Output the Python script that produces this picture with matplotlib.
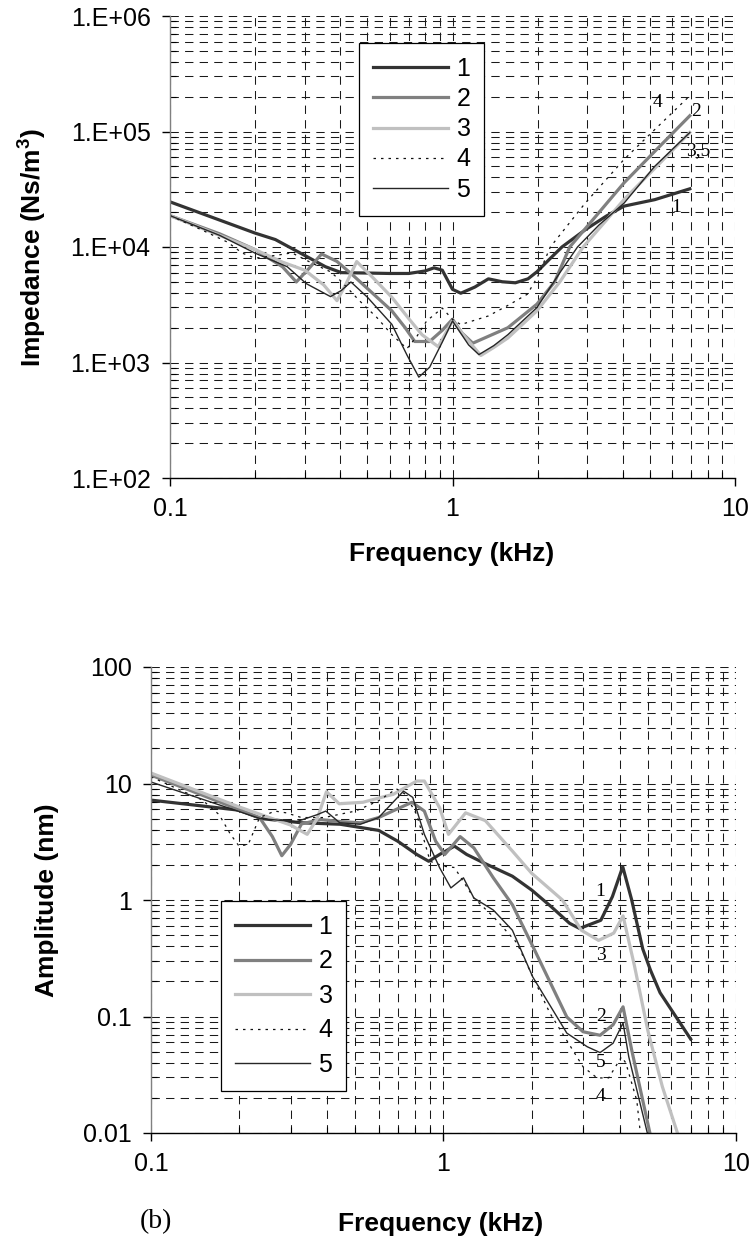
import numpy as np
import matplotlib
matplotlib.use('Agg')
import matplotlib.pyplot as plt
from matplotlib.ticker import LogLocator, NullFormatter, FuncFormatter
from matplotlib.lines import Line2D

# ---------------- data: (a) impedance ----------------
series_labels = ['1', '2', '3', '4', '5']

imp_f1 = [0.1, 0.2, 0.236, 0.304, 0.355, 0.404, 0.5, 0.6, 0.7, 0.8, 0.86, 0.92, 1.0, 1.07, 1.2, 1.34, 1.5, 1.67, 1.85, 1.99, 2.2, 2.44, 2.95, 3.5, 4.05, 5.2, 6.92]
imp_z1 = [24600, 13200, 11600, 8300, 6750, 6000, 5950, 5900, 5900, 6200, 6600, 6300, 4300, 3980, 4500, 5300, 5000, 4900, 5300, 6100, 7800, 10000, 14100, 18500, 22600, 25700, 31900]

imp_f2 = [0.1, 0.15, 0.2, 0.25, 0.28, 0.31, 0.344, 0.39, 0.444, 0.52, 0.61, 0.68, 0.735, 0.83, 0.92, 1.0, 1.08, 1.18, 1.35, 1.57, 1.99, 2.3, 2.6, 3.2, 4.05, 5.2, 6.92]
imp_z2 = [18700, 13000, 9500, 6750, 4980, 6500, 8700, 7500, 5700, 4000, 2800, 2000, 1520, 1520, 1900, 2370, 1800, 1470, 1700, 2000, 3200, 5000, 10000, 18200, 36000, 67300, 137000]

imp_f3 = [0.1, 0.15, 0.2, 0.25, 0.3, 0.35, 0.39, 0.42, 0.458, 0.52, 0.61, 0.7, 0.78, 0.89, 1.0, 1.1, 1.26, 1.4, 1.57, 1.99, 2.4, 2.9, 3.5, 4.05, 5.2, 6.92]
imp_z3 = [18700, 12600, 9500, 7400, 6300, 4700, 3430, 4800, 7480, 5500, 3670, 2400, 1740, 1370, 2290, 1700, 1150, 1350, 1630, 2800, 5000, 10000, 17000, 25800, 48000, 98000]

imp_f4 = [0.1, 0.13, 0.16, 0.18, 0.2, 0.24, 0.27, 0.32, 0.37, 0.4, 0.47, 0.54, 0.61, 0.69, 0.75, 0.81, 0.92, 1.0, 1.07, 1.34, 1.6, 1.84, 2.0, 2.22, 2.95, 4.05, 5.2, 6.92]
imp_z4 = [18700, 14000, 11000, 8870, 8000, 8500, 8900, 7200, 6100, 5150, 3400, 2450, 1740, 1320, 1700, 2290, 2960, 2360, 2130, 2530, 3200, 3900, 5500, 10000, 24000, 57400, 104000, 204000]

imp_f5 = [0.1, 0.15, 0.2, 0.26, 0.304, 0.37, 0.404, 0.437, 0.5, 0.61, 0.69, 0.76, 0.83, 0.92, 1.0, 1.14, 1.24, 1.4, 1.57, 1.99, 2.4, 2.77, 3.3, 4.05, 5.2, 6.92]
imp_z5 = [18700, 12600, 8850, 6750, 4810, 3720, 4200, 4980, 3670, 2140, 1160, 747, 910, 1500, 2290, 1420, 1170, 1400, 1740, 2990, 6000, 10000, 15500, 24000, 50000, 98000]

imp_note_text = ['4', '2', '3,5', '1']
imp_note_f = [5.3, 7.3, 7.4, 6.2]
imp_note_z = [1.8e5, 1.48e5, 6.9e4, 2.2e4]

# ---------------- data: (b) amplitude ----------------
amp_f1 = [0.1, 0.2, 0.238, 0.327, 0.443, 0.6, 0.697, 0.81, 0.89, 0.97, 1.09, 1.2, 1.39, 1.72, 2.0, 2.33, 2.7, 2.92, 3.45, 3.78, 4.1, 4.4, 4.8, 5.1, 5.5, 6.0, 7.0]
amp_a1 = [7.2, 5.9, 5.0, 4.6, 4.47, 3.96, 3.2, 2.46, 2.15, 2.46, 2.9, 2.46, 2.05, 1.6, 1.22, 0.88, 0.63, 0.57, 0.67, 1.07, 1.93, 1.0, 0.38, 0.25, 0.16, 0.115, 0.064]

amp_f2 = [0.1, 0.235, 0.26, 0.28, 0.3, 0.327, 0.38, 0.45, 0.52, 0.6, 0.69, 0.78, 0.86, 0.94, 1.01, 1.14, 1.27, 1.48, 1.72, 2.02, 2.64, 3.0, 3.43, 3.8, 4.11, 4.4, 5.1]
amp_a2 = [11.8, 5.1, 3.5, 2.4, 3.0, 4.5, 4.9, 4.7, 4.6, 5.1, 6.0, 6.9, 5.8, 3.2, 2.46, 3.5, 2.8, 1.55, 0.91, 0.4, 0.099, 0.074, 0.069, 0.085, 0.121, 0.0515, 0.0095]

amp_f3 = [0.1, 0.2, 0.3, 0.342, 0.37, 0.398, 0.44, 0.53, 0.675, 0.81, 0.86, 0.97, 1.04, 1.19, 1.39, 1.72, 2.0, 2.55, 2.96, 3.39, 3.82, 4.11, 4.5, 5.0, 5.6, 6.35]
amp_a3 = [12.3, 6.3, 4.4, 3.66, 5.0, 8.5, 6.7, 6.9, 8.1, 10.5, 10.5, 6.2, 3.66, 5.6, 4.8, 2.63, 1.7, 1.0, 0.55, 0.45, 0.52, 0.73, 0.27, 0.075, 0.025, 0.0095]

amp_f4 = [0.1, 0.15, 0.171, 0.187, 0.2, 0.215, 0.235, 0.265, 0.29, 0.327, 0.39, 0.5, 0.6, 0.69, 0.74, 0.81, 0.9, 1.0, 1.09, 1.27, 1.48, 1.78, 2.31, 3.0, 3.35, 3.67, 4.06, 4.2, 4.58, 4.72]
amp_a4 = [11.4, 7.2, 5.4, 3.66, 2.9, 3.0, 5.1, 5.8, 5.6, 5.1, 5.1, 5.8, 7.1, 9.0, 8.1, 5.4, 2.15, 1.95, 1.9, 1.04, 0.72, 0.43, 0.107, 0.037, 0.0297, 0.0297, 0.045, 0.04, 0.019, 0.0095]

amp_f5 = [0.1, 0.236, 0.314, 0.37, 0.396, 0.442, 0.52, 0.6, 0.73, 0.785, 0.86, 0.97, 1.06, 1.17, 1.27, 1.48, 1.72, 2.02, 2.64, 3.1, 3.43, 3.8, 4.11, 4.3, 5.0]
amp_a5 = [10.3, 5.0, 4.7, 5.4, 5.8, 4.6, 4.47, 5.1, 8.6, 7.6, 3.66, 1.89, 1.27, 1.55, 1.04, 0.82, 0.55, 0.218, 0.072, 0.055, 0.049, 0.059, 0.088, 0.045, 0.0095]

amp_note_text = ['1', '3', '2', '5', '4']
amp_note_f = [3.43, 3.45, 3.45, 3.45, 3.45]
amp_note_a = [1.18, 0.337, 0.1, 0.04, 0.0204]

x_ticks = [0.1, 1, 10]
imp_ticks = [1e2, 1e3, 1e4, 1e5, 1e6]
amp_ticks = [0.01, 0.1, 1, 10, 100]

# ---------------- styling ----------------
W, H = 755, 1249
styles = [
    dict(color='#333333', lw=2.3, ls='-'),
    dict(color='#808080', lw=2.3, ls='-'),
    dict(color='#c0c0c0', lw=2.3, ls='-'),
    dict(color='#111111', lw=0.9, ls=(0, (2, 4))),
    dict(color='#262626', lw=1.0, ls='-'),
]
SANS = ['Liberation Sans', 'DejaVu Sans']
SERIF = ['Liberation Serif', 'DejaVu Serif']
TICK_FS = 18
LAB_FS = 19

fig = plt.figure(figsize=(W / 100, H / 100), dpi=100)


def rect(l, r, t, b):
    return [l / W, 1 - b / H, (r - l) / W, (b - t) / H]


def style_axes(ax, ylim, yticks, fmt):
    ax.set_xscale('log')
    ax.set_yscale('log')
    ax.set_xlim(0.1, 10)
    ax.set_ylim(*ylim)
    for s in ('top', 'right'):
        ax.spines[s].set_visible(False)
    ax.spines['left'].set_color('#808080')
    ax.spines['bottom'].set_color('#000000')
    for s in ('left', 'bottom'):
        ax.spines[s].set_linewidth(1.0)
    ax.set_xticks(x_ticks)
    ax.set_yticks(yticks)
    ax.xaxis.set_minor_locator(LogLocator(base=10, subs=np.arange(2, 10), numticks=20))
    ax.yaxis.set_minor_locator(LogLocator(base=10, subs=np.arange(2, 10), numticks=20))
    ax.xaxis.set_minor_formatter(NullFormatter())
    ax.yaxis.set_minor_formatter(NullFormatter())
    ax.xaxis.set_major_formatter(FuncFormatter(lambda v, p: '%g' % v))
    ax.yaxis.set_major_formatter(FuncFormatter(fmt))
    ax.grid(True, which='both', color='#1a1a1a', lw=0.75, ls=(0, (8, 6)))
    ax.tick_params(which='major', direction='out', length=6, width=1, labelsize=TICK_FS, pad=8)
    ax.tick_params(which='minor', direction='in', length=4, width=0.8)
    ax.tick_params(top=False, right=False, which='both')
    for lab in ax.get_xticklabels() + ax.get_yticklabels():
        lab.set_family(SANS)
    ax.set_axisbelow(True)


def legend(ax, x0, y0, spacing):
    handles = [Line2D([], [], **st) for st in styles]
    lg = ax.legend(handles, series_labels, loc='upper left',
                   bbox_to_anchor=(x0 / W, 1 - y0 / H), bbox_transform=fig.transFigure,
                   borderaxespad=0, frameon=True, fancybox=False, framealpha=1,
                   edgecolor='#000000', handlelength=3.0, handletextpad=0.35,
                   labelspacing=spacing, borderpad=0.55,
                   prop=dict(family=SANS, size=TICK_FS))
    lg.get_frame().set_linewidth(0.9)
    return lg


# ---------------- (a) ----------------
ax1 = fig.add_axes(rect(170, 735, 16, 478))
style_axes(ax1, (1e2, 1e6), imp_ticks, lambda v, p: '1.E+%02d' % int(round(np.log10(v))))
imp_f = [imp_f1, imp_f2, imp_f3, imp_f4, imp_f5]
imp_z = [imp_z1, imp_z2, imp_z3, imp_z4, imp_z5]
for f, z, st in zip(imp_f, imp_z, styles):
    ax1.plot(f, z, **st)
for t, f, z in zip(imp_note_text, imp_note_f, imp_note_z):
    ax1.text(f, z, t, family=SERIF, fontsize=14, ha='center', va='center')
legend(ax1, 359, 43, 0.25)
fig.text(452 / W, 1 - 554 / H, 'Frequency (kHz)', family=SANS, fontsize=LAB_FS,
         fontweight='bold', ha='center', va='center')
fig.text(32 / W, 1 - 247 / H, 'Impedance (Ns/m$^\\mathregular{3}$)', family=SANS, fontsize=LAB_FS,
         fontweight='bold', ha='center', va='center', rotation=90)

# ---------------- (b) ----------------
ax2 = fig.add_axes(rect(151, 736, 667, 1133))
style_axes(ax2, (0.01, 100), amp_ticks, lambda v, p: '%g' % v)
amp_f = [amp_f1, amp_f2, amp_f3, amp_f4, amp_f5]
amp_a = [amp_a1, amp_a2, amp_a3, amp_a4, amp_a5]
for f, a, st in zip(amp_f, amp_a, styles):
    ax2.plot(f, a, **st)
for t, f, a in zip(amp_note_text, amp_note_f, amp_note_a):
    ax2.text(f, a, t, family=SERIF, fontsize=14, ha='center', va='center')
legend(ax2, 221, 901, 0.42)
fig.text(441 / W, 1 - 1224 / H, 'Frequency (kHz)', family=SANS, fontsize=LAB_FS,
         fontweight='bold', ha='center', va='center')
fig.text(47 / W, 1 - 900 / H, 'Amplitude (nm)', family=SANS, fontsize=LAB_FS,
         fontweight='bold', ha='center', va='center', rotation=90)
fig.text(156 / W, 1 - 1222 / H, '(b)', family=SERIF, fontsize=20, ha='center', va='center')

fig.savefig('out.png', dpi=100)
